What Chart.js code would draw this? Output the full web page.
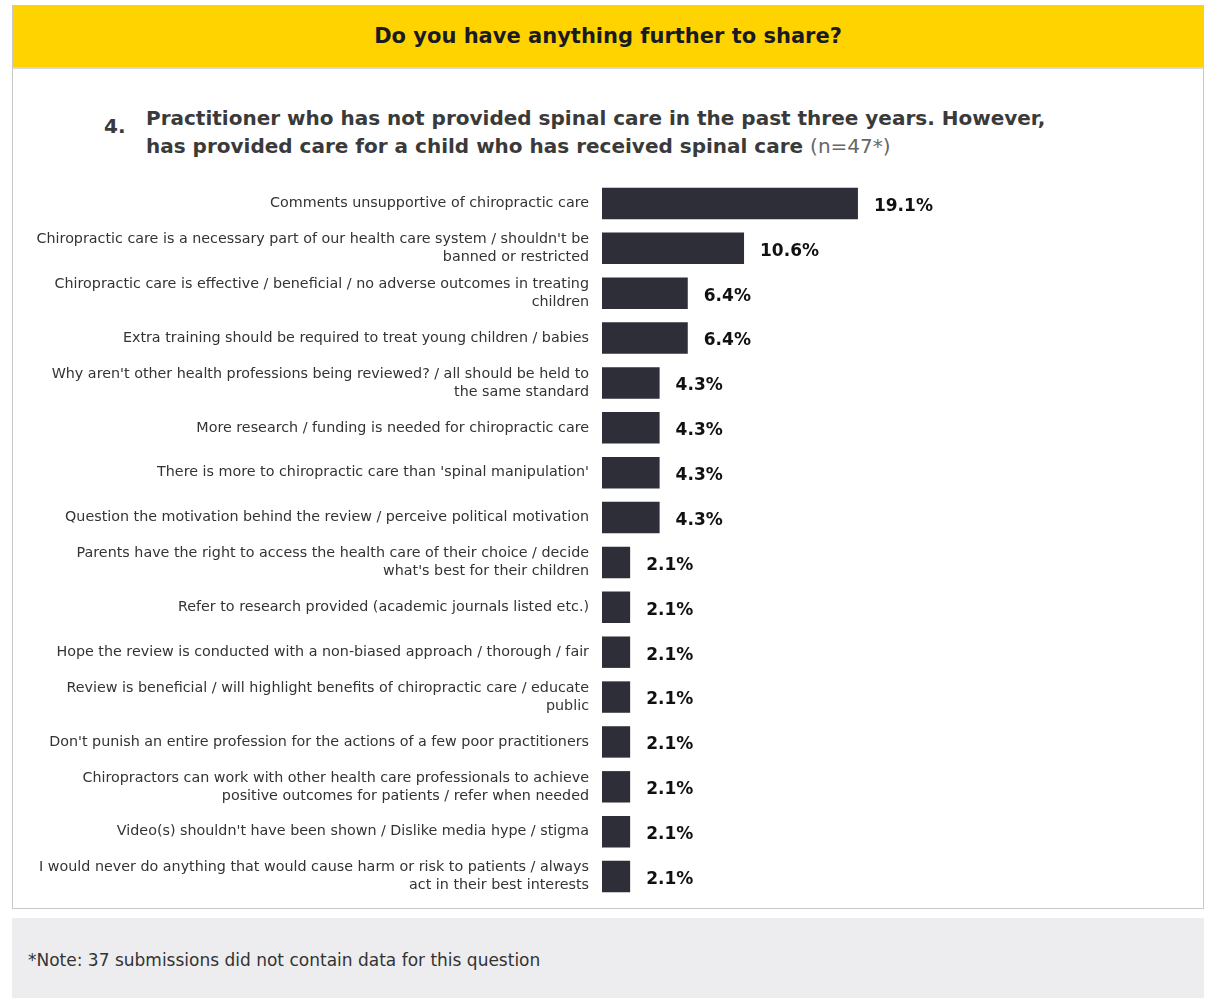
<!DOCTYPE html>
<html>
<head>
<meta charset="utf-8">
<script src="https://cdn.jsdelivr.net/npm/chart.js@4.4.1/dist/chart.umd.min.js"></script>
<style>
  body { margin:0; background:#fff; font-family:"DejaVu Sans", sans-serif; color:#333; }
  #frame { position:absolute; left:12px; top:5px; width:1190px; height:902px; border:1px solid #c8c8c8; }
  #head { position:absolute; left:0; top:0; width:1190px; height:61px; background:#FFD300; border-bottom:2px solid #d8d8d8;
          font-weight:700; font-size:21px; color:#1a1a24; text-align:center; line-height:61px; }
  #num { position:absolute; left:91px; top:108px; font-weight:700; font-size:20px; color:#3a3a3a; }
  #title { position:absolute; left:133px; top:98px; font-weight:700; font-size:20px; line-height:28px; color:#3a3a3a; }
  #title span { font-weight:400; color:#666; }
  #box { position:absolute; left:13px; top:181px; width:1190px; height:718px; }
  #note { position:absolute; left:12px; top:918px; width:1192px; height:80px; background:#ededef; }
  #note div { position:absolute; left:16px; top:32px; font-size:17px; color:#333; }
</style>
</head>
<body>
<div id="frame">
  <div id="head">Do you have anything further to share?</div>
  <div id="num">4.</div>
  <div id="title">Practitioner who has not provided spinal care in the past three years. However,<br>has provided care for a child who has received spinal care <span>(n=47*)</span></div>
</div>
<div id="box"><canvas id="myChart"></canvas></div>
<div id="note"><div>*Note: 37 submissions did not contain data for this question</div></div>
<script>
var categories = [
  "Comments unsupportive of chiropractic care",
  ["Chiropractic care is a necessary part of our health care system / shouldn't be", "banned or restricted"],
  ["Chiropractic care is effective / beneficial / no adverse outcomes in treating", "children"],
  "Extra training should be required to treat young children / babies",
  ["Why aren't other health professions being reviewed? / all should be held to", "the same standard"],
  "More research / funding is needed for chiropractic care",
  "There is more to chiropractic care than 'spinal manipulation'",
  "Question the motivation behind the review / perceive political motivation",
  ["Parents have the right to access the health care of their choice / decide", "what's best for their children"],
  "Refer to research provided (academic journals listed etc.)",
  "Hope the review is conducted with a non-biased approach / thorough / fair",
  ["Review is beneficial / will highlight benefits of chiropractic care / educate", "public"],
  "Don't punish an entire profession for the actions of a few poor practitioners",
  ["Chiropractors can work with other health care professionals to achieve", "positive outcomes for patients / refer when needed"],
  "Video(s) shouldn't have been shown / Dislike media hype / stigma",
  ["I would never do anything that would cause harm or risk to patients / always", "act in their best interests"]
];
var values = [19.1, 10.6, 6.4, 6.4, 4.3, 4.3, 4.3, 4.3, 2.1, 2.1, 2.1, 2.1, 2.1, 2.1, 2.1, 2.1];

// draws the % next to each bar
var valueLabels = {
  id: 'valueLabels',
  afterDatasetsDraw: function(chart) {
    var c = chart.ctx;
    var meta = chart.getDatasetMeta(0);
    c.save();
    c.font = 'bold 17px "DejaVu Sans"';
    c.fillStyle = '#111';
    c.textBaseline = 'middle';
    meta.data.forEach(function(bar, i) {
      c.fillText(values[i].toFixed(1) + '%', bar.x + 16, bar.y + 3);
    });
    c.restore();
  }
};

var ctx = document.getElementById("myChart").getContext('2d');
new Chart(ctx, {
  type: 'bar',
  data: {
    labels: categories,
    datasets: [{
      data: values,
      backgroundColor: '#2e2e38',
      barPercentage: 0.7,
      categoryPercentage: 1
    }]
  },
  options: {
    indexAxis: 'y',
    responsive: true,
    maintainAspectRatio: false,
    animation: false,
    layout: { padding: { top: 0, right: 65, bottom: 0, left: 0 } },
    plugins: { legend: { display: false }, tooltip: { enabled: false } },
    scales: {
      x: { display: false, min: 0, max: 40 },
      y: {
        grid: { display: false, drawTicks: false },
        border: { display: false },
        ticks: {
          color: '#333',
          padding: 13,
          font: { family: '"DejaVu Sans"', size: 14.3, lineHeight: 1.26 }
        },
        afterFit: function(scale) {
          scale.width = 589;
          scale.paddingTop = 0;
          scale.paddingBottom = 0;
        }
      }
    }
  },
  plugins: [valueLabels]
});
</script>
</body>
</html>
